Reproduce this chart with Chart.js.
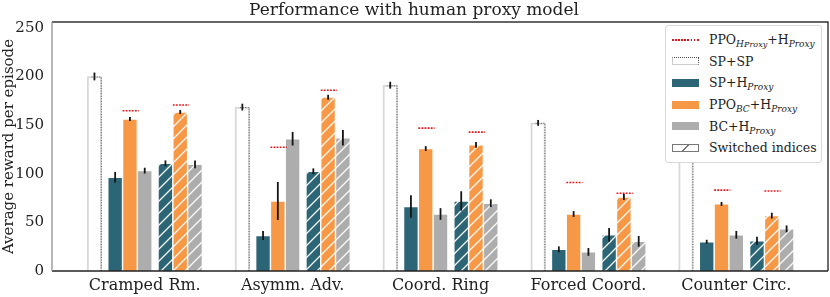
<!DOCTYPE html>
<html>
<head>
<meta charset="utf-8">
<script src="https://cdn.jsdelivr.net/npm/chart.js@4"></script>
<style>
body { margin: 0; background: #fff; }
#wrap { position: relative; width: 830px; height: 297px; }
#legend {
	position: absolute; left: 665px; top: 25px; width: 157px; height: 138px;
	border: 1px solid #d9d9d9; border-radius: 3px; background: #fff; box-sizing: border-box;
	font-family: 'DejaVu Serif'; font-size: 12.5px; color: #222; padding-top: 3px;
}
.row { height: 21.6px; display: flex; align-items: center; padding-left: 6px; white-space: nowrap; }
.sw { width: 27px; height: 8px; margin-right: 10px; box-sizing: border-box; flex: none; }
sub { font-size: 0.72em; vertical-align: -0.35em; line-height: 0; font-style: italic; }
</style>
</head>
<body>
<div id="wrap">
	<canvas id="bieuDo"></canvas>
	<div id="legend"></div>
</div>
<script>
var categories = ['Cramped Rm.', 'Asymm. Adv.', 'Coord. Ring', 'Forced Coord.', 'Counter Circ.'];
var yTicks = [0, 50, 100, 150, 200, 250];

// mean reward, error bar half-length
var spSp = [200, 168.5, 191, 152.3, 150];
var spSpErr = [4, 3.5, 3.5, 3, 3];
var spH = [96.4, 36.5, 66.3, 22.3, 30.1];
var spHErr = [5.5, 4.5, 11.5, 3, 2];
var ppoBcH = [156.3, 72, 125.9, 58.6, 69];
var ppoBcHErr = [2, 19.5, 2.5, 3, 2];
var bcH = [103.2, 136, 58.6, 19.6, 37.2];
var bcHErr = [3, 7, 6, 4, 4];
var swSpH = [110.7, 102.5, 72, 37.2, 31.1];
var swSpHErr = [3, 3, 10, 7, 4];
var swPpoBcH = [163.5, 178.7, 129.6, 76.1, 56.9];
var swPpoBcHErr = [2, 2.5, 3, 3, 3];
var swBcH = [109.6, 137, 69.7, 30.5, 43.3];
var swBcHErr = [4, 8, 4, 5.5, 3.5];
// PPO_HProxy + HProxy (red dotted marks above the PPO_BC bars)
var ppoHProxy = [164.8, 127.2, 146.9, 91, 83.2];
var swPpoHProxy = [170.6, 185.8, 142.8, 79.9, 82.2];

var legendLabels = [
	'PPO<sub>H<span style="font-size:.9em">Proxy</span></sub>+H<sub>Proxy</sub>',
	'SP+SP',
	'SP+H<sub>Proxy</sub>',
	'PPO<sub>BC</sub>+H<sub>Proxy</sub>',
	'BC+H<sub>Proxy</sub>',
	'Switched indices'
];

var mauXanh = '#2c6575';
var mauCam = '#f79846';
var mauXam = '#adadad';
var viTri = [-0.34, -0.2, -0.1, 0, 0.14, 0.24, 0.34];

function taoHatch(color) {
	var c = document.createElement('canvas');
	c.width = 12;
	c.height = 12;
	var g = c.getContext('2d');
	g.fillStyle = color;
	g.fillRect(0, 0, 12, 12);
	g.strokeStyle = 'rgba(255,255,255,0.95)';
	g.lineWidth = 1.3;
	g.beginPath();
	g.moveTo(0, 12); g.lineTo(12, 0);
	g.moveTo(-6, 6); g.lineTo(6, -6);
	g.moveTo(6, 18); g.lineTo(18, 6);
	g.stroke();
	return g.createPattern(c, 'repeat');
}

function taoDataset(values, errs, slot, fill, extra) {
	var ds = {
		data: values.map((v, i) => ({ x: i + viTri[slot], y: v })),
		errs: errs,
		backgroundColor: fill,
		borderColor: 'rgba(255,255,255,0.45)',
		borderWidth: 1,
		barThickness: 14.7,
		grouped: false
	};
	return Object.assign(ds, extra || {});
}

var datasets = [
	taoDataset(spSp, spSpErr, 0, '#fff', { borderColor: '#d8d8d8', borderWidth: 2, dotted: true }),
	taoDataset(spH, spHErr, 1, mauXanh),
	taoDataset(ppoBcH, ppoBcHErr, 2, mauCam, { redLine: ppoHProxy }),
	taoDataset(bcH, bcHErr, 3, mauXam),
	taoDataset(swSpH, swSpHErr, 4, taoHatch(mauXanh)),
	taoDataset(swPpoBcH, swPpoBcHErr, 5, taoHatch(mauCam), { redLine: swPpoHProxy }),
	taoDataset(swBcH, swBcHErr, 6, taoHatch(mauXam))
];

var veThem = {
	id: 'veThem',
	afterDatasetsDraw(chart) {
		var ctx = chart.ctx;
		var y = chart.scales.y;
		var a = chart.chartArea;
		ctx.save();
		chart.data.datasets.forEach((ds, di) => {
			var meta = chart.getDatasetMeta(di);
			meta.data.forEach((bar, i) => {
				var w = bar.width;
				if (ds.dotted) {
					ctx.strokeStyle = '#555';
					ctx.lineWidth = 1;
					ctx.setLineDash([1, 1.6]);
					ctx.beginPath();
					ctx.moveTo(bar.x + w / 2 - 0.5, bar.base);
					ctx.lineTo(bar.x + w / 2 - 0.5, bar.y + 0.5);
					ctx.lineTo(bar.x - w / 2 + 4, bar.y + 0.5);
					ctx.stroke();
					ctx.setLineDash([]);
				}
				if (ds.redLine) {
					var ry = y.getPixelForValue(ds.redLine[i]);
					ctx.strokeStyle = '#e8141c';
					ctx.lineWidth = 1.6;
					ctx.setLineDash([1.8, 1.3]);
					ctx.beginPath();
					ctx.moveTo(bar.x - w / 2, ry);
					ctx.lineTo(bar.x + w / 2 + 1.5, ry);
					ctx.stroke();
					ctx.setLineDash([]);
				}
				var v = ds.data[i].y;
				var e = ds.errs[i];
				ctx.strokeStyle = '#151515';
				ctx.lineWidth = 1.8;
				ctx.beginPath();
				ctx.moveTo(bar.x, y.getPixelForValue(v - e));
				ctx.lineTo(bar.x, y.getPixelForValue(v + e));
				ctx.stroke();
			});
		});
		// khung truc
		ctx.lineWidth = 1.4;
		ctx.strokeStyle = '#333';
		ctx.beginPath();
		ctx.moveTo(a.left, a.top);
		ctx.lineTo(a.right, a.top);
		ctx.lineTo(a.right, a.bottom);
		ctx.stroke();
		ctx.strokeStyle = '#222';
		ctx.beginPath();
		ctx.moveTo(a.left, a.bottom);
		ctx.lineTo(a.right, a.bottom);
		ctx.stroke();
		ctx.strokeStyle = '#999';
		ctx.beginPath();
		ctx.moveTo(a.left, a.top);
		ctx.lineTo(a.left, a.bottom);
		ctx.stroke();
		ctx.restore();
	}
};

var config = {
	type: 'bar',
	data: { datasets: datasets },
	options: {
		responsive: true,
		maintainAspectRatio: false,
		animation: false,
		layout: { padding: { right: 2 } },
		plugins: {
			legend: { display: false },
			tooltip: { enabled: false },
			title: {
				display: true,
				text: 'Performance with human proxy model',
				color: '#222',
				font: { family: 'DejaVu Serif', size: 17, weight: 'normal', lineHeight: 1 },
				padding: { top: 2, bottom: 3 }
			}
		},
		scales: {
			x: {
				type: 'linear',
				offset: false,
				min: -0.627,
				max: 4.62,
				grid: { display: false, drawTicks: false },
				border: { display: false },
				afterBuildTicks: (s) => { s.ticks = categories.map((c, i) => ({ value: i })); },
				afterFit: (s) => { s.height = 26; },
				ticks: {
					callback: (v) => categories[v],
					color: '#222',
					padding: 5,
					maxRotation: 0,
					autoSkip: false,
					font: { family: 'DejaVu Serif', size: 16 }
				}
			},
			y: {
				min: 0,
				max: 256,
				grid: { display: false, drawTicks: false },
				border: { display: false },
				afterBuildTicks: (s) => { s.ticks = yTicks.map(v => ({ value: v })); },
				afterFit: (s) => { s.width = 52; },
				ticks: {
					color: '#222',
					padding: 8,
					font: { family: 'DejaVu Serif', size: 15 }
				},
				title: {
					display: true,
					text: 'Average reward per episode',
					color: '#222',
					padding: { top: 0, bottom: 0 },
					font: { family: 'DejaVu Serif', size: 15 }
				}
			}
		}
	},
	plugins: [veThem]
};

var bieuDo = new Chart(document.getElementById('bieuDo').getContext('2d'), config);

// chu thich dang HTML de co chi so duoi
var swatches = [
	'height:1.6px;background:repeating-linear-gradient(to right, #e8141c 0 1.8px, transparent 1.8px 3.1px);',
	'background:#fff;border:1px solid #ccc;border-top:1px dotted #555;border-right:1px dotted #555;',
	'background:' + mauXanh + ';',
	'background:' + mauCam + ';',
	'background:' + mauXam + ';',
	'background:#fff linear-gradient(135deg, transparent 46%, #777 47%, #777 53%, transparent 54%);border:1px solid #777;'
];
var legend = document.getElementById('legend');
legendLabels.forEach((label, i) => {
	var row = document.createElement('div');
	row.className = 'row';
	row.innerHTML = '<span class="sw" style="' + swatches[i] + '"></span><span>' + label + '</span>';
	legend.appendChild(row);
});
</script>
</body>
</html>
